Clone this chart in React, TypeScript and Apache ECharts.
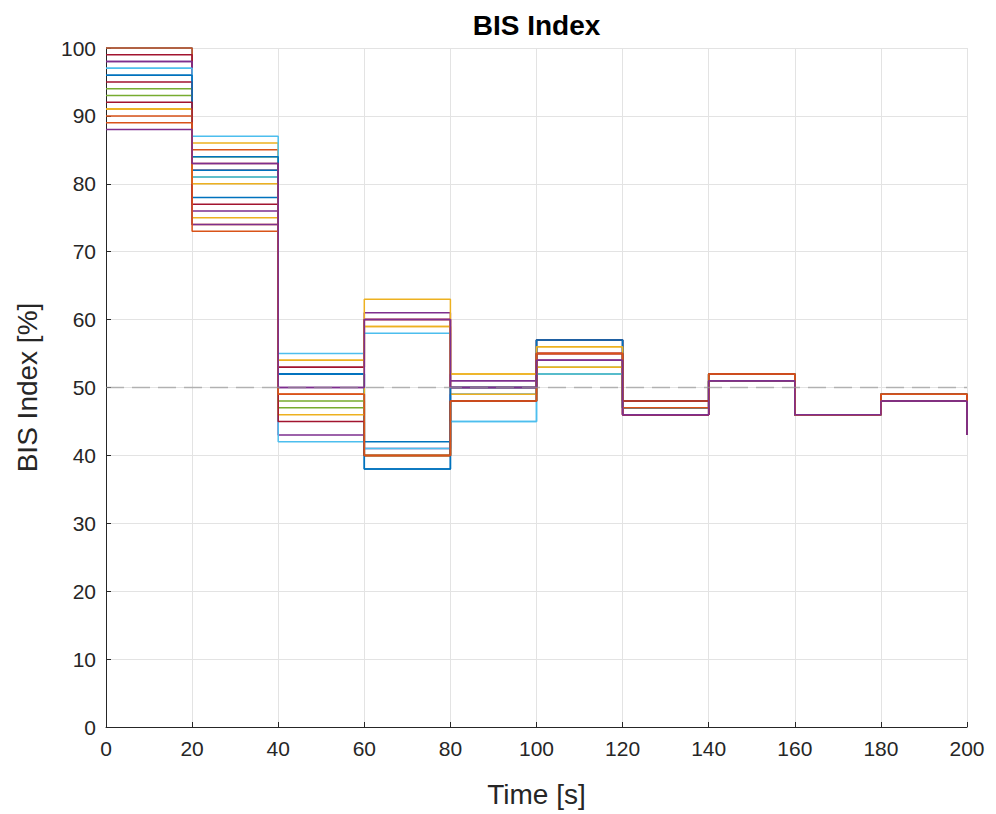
import React, { useEffect, useRef } from "react";
import * as echarts from "echarts";

// Sample times (s) at which each stair level starts
const timeTicks = [0, 20, 40, 60, 80, 100, 120, 140, 160, 180, 200];

// MATLAB default colour order
const C = {
  blue: "#0072BD",
  orange: "#D95319",
  yellow: "#EDB120",
  purple: "#7E2F8E",
  green: "#77AC30",
  lightBlue: "#4DBEEE",
  darkRed: "#A2142F",
};

// BIS trajectories, one level per 20 s step (last value is the level at t = 200 s)
const bis01 = [100, 78, 52, 38, 50, 57, 48, 52, 46, 49, 48];
const bis02 = [100, 74, 49, 40, 48, 55, 47, 51, 46, 48, 43];
const bis03 = [91, 75, 54, 59, 52, 56, 46, 51, 46, 48, 43];
const bis04 = [98, 74, 50, 61, 51, 54, 46, 51, 46, 48, 43];
const bis05 = [93, 81, 47, 40, 48, 53, 47, 52, 46, 49, 48];
const bis06 = [97, 81, 55, 58, 45, 52, 48, 52, 46, 49, 48];
const bis07 = [99, 82, 53, 60, 50, 55, 48, 52, 46, 49, 48];
const bis08 = [96, 82, 52, 42, 49, 57, 47, 51, 46, 48, 43];
const bis09 = [90, 85, 49, 40, 48, 55, 46, 51, 46, 48, 43];
const bis10 = [91, 86, 54, 59, 49, 53, 47, 52, 46, 49, 48];
const bis11 = [98, 76, 43, 41, 51, 54, 46, 51, 46, 48, 43];
const bis12 = [94, 84, 48, 40, 48, 52, 48, 52, 46, 49, 48];
const bis13 = [97, 87, 42, 41, 45, 52, 47, 51, 46, 48, 43];
const bis14 = [95, 77, 53, 60, 50, 57, 46, 51, 46, 48, 43];
const bis15 = [96, 84, 52, 38, 50, 57, 47, 52, 46, 49, 48];
const bis16 = [91, 80, 46, 63, 52, 56, 48, 52, 46, 49, 48];
const bis17 = [92, 83, 45, 40, 48, 55, 48, 52, 46, 49, 48];
const bis18 = [89, 73, 49, 40, 48, 55, 47, 52, 46, 49, 48];
const bis19 = [88, 83, 50, 60, 50, 54, 46, 51, 46, 48, 43];

const trajectories = [
  bis01, bis02, bis03, bis04, bis05, bis06, bis07, bis08, bis09, bis10,
  bis11, bis12, bis13, bis14, bis15, bis16, bis17, bis18, bis19,
];
const trajectoryColors = [
  C.blue, C.orange, C.yellow, C.purple, C.green, C.lightBlue, C.darkRed,
  C.blue, C.orange, C.yellow, C.purple, C.green, C.lightBlue, C.darkRed,
  C.blue, C.yellow, C.darkRed, C.orange, C.purple,
];

// Target BIS reference level
const targetLevel = 50;

const xTicks = { min: 0, max: 200, interval: 20 };
const yTicks = { min: 0, max: 100, interval: 10 };

const FONT = "Liberation Sans, Arial, Helvetica, sans-serif";
const TEXT = "#262626";

export default function App() {
  const ref = useRef<HTMLDivElement>(null);

  useEffect(() => {
    if (!ref.current) return;
    const chart = echarts.init(ref.current, undefined, { renderer: "svg" });

    const gridLeft = 106;
    const gridRight = 29;
    const gridTop = 48;
    const gridBottom = 87;

    const stairSeries = trajectories.map((vals, i) => ({
      type: "line" as const,
      name: `BIS ${i + 1}`,
      step: "end" as const,
      symbol: "none",
      clip: false,
      silent: true,
      data: vals.map((v, k) => [timeTicks[k], v]),
      lineStyle: { color: trajectoryColors[i], width: 1.5 },
      itemStyle: { color: trajectoryColors[i] },
      z: 2,
    }));

    chart.setOption({
      animation: false,
      backgroundColor: "#ffffff",
      grid: { left: gridLeft, right: gridRight, top: gridTop, bottom: gridBottom },
      graphic: [
        {
          type: "text",
          x: gridLeft + (996 - gridLeft - gridRight) / 2,
          y: 25,
          style: {
            text: "BIS Index",
            fontFamily: FONT,
            fontWeight: "bold",
            fontSize: 28,
            fill: "#000000",
            textAlign: "center",
            textVerticalAlign: "middle",
          },
        },
      ],
      xAxis: {
        type: "value",
        min: xTicks.min,
        max: xTicks.max,
        interval: xTicks.interval,
        name: "Time [s]",
        nameLocation: "middle",
        nameGap: 53,
        nameTextStyle: { fontFamily: FONT, fontSize: 28, color: TEXT },
        axisLine: { show: true, onZero: false, lineStyle: { color: TEXT, width: 1 } },
        axisTick: { show: true, inside: true, length: 5, lineStyle: { color: TEXT } },
        axisLabel: { fontFamily: FONT, fontSize: 21, color: TEXT, margin: 11 },
        splitLine: { show: true, lineStyle: { color: "#e3e3e3", width: 1 } },
      },
      yAxis: {
        type: "value",
        min: yTicks.min,
        max: yTicks.max,
        interval: yTicks.interval,
        name: "BIS Index [%]",
        nameLocation: "middle",
        nameGap: 65,
        nameTextStyle: { fontFamily: FONT, fontSize: 28, color: TEXT },
        axisLine: { show: true, onZero: false, lineStyle: { color: TEXT, width: 1 } },
        axisTick: { show: true, inside: true, length: 5, lineStyle: { color: TEXT } },
        axisLabel: { fontFamily: FONT, fontSize: 21, color: TEXT, margin: 10 },
        splitLine: { show: true, lineStyle: { color: "#e3e3e3", width: 1 } },
      },
      series: [
        ...stairSeries,
        {
          type: "line",
          name: "Target",
          symbol: "none",
          silent: true,
          data: [
            [xTicks.min, targetLevel],
            [xTicks.max, targetLevel],
          ],
          lineStyle: { color: "rgba(150,150,150,0.65)", width: 1.5, type: [18, 8] },
          z: 3,
        },
      ],
    });

    return () => chart.dispose();
  }, []);

  return (
    <div
      ref={ref}
      style={{ position: "absolute", left: 0, top: 0, width: 996, height: 814, background: "#fff" }}
    />
  );
}
